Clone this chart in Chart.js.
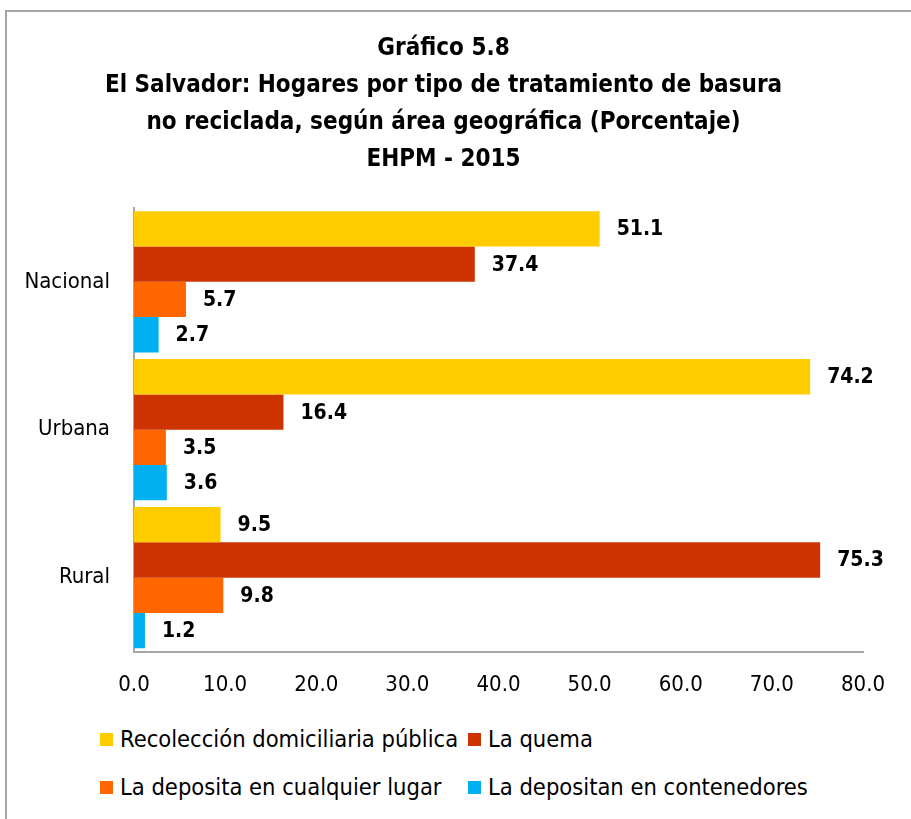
<!DOCTYPE html>
<html>
<head>
<meta charset="utf-8">
<script src="https://cdn.jsdelivr.net/npm/chart.js@4.4.1/dist/chart.umd.min.js"></script>
<style>
    body { margin: 0; background: #fff; width: 911px; height: 819px; overflow: hidden; position: relative; }
    .frame { position: absolute; left: 5px; top: 10px; width: 960px; height: 900px; border: 2px solid #a6a6a6; box-sizing: border-box; }
    .wrap { position: absolute; left: 24px; top: 12px; width: 887px; height: 712px; }
    .legend { position: absolute; left: 100px; font-family: "Liberation Sans Narrow", "DejaVu Sans Condensed", sans-serif; font-size: 23.5px; color: #000; white-space: nowrap; }
    .legend .item { position: absolute; top: 0; display: flex; align-items: center; }
    .legend .sw { width: 13px; height: 13px; margin-right: 7px; }
</style>
</head>
<body>
<div class="frame"></div>
<div class="wrap"><canvas id="chart"></canvas></div>
<div class="legend" id="legend1" style="top: 725px;"></div>
<div class="legend" id="legend2" style="top: 773px;"></div>
<script>
const FONT = '"Liberation Sans Narrow", "DejaVu Sans Condensed", sans-serif';

const areas = ['Nacional', 'Urbana', 'Rural'];
const seriesNames = [
    'Recolección domiciliaria pública',
    'La quema',
    'La deposita en cualquier lugar',
    'La depositan en contenedores'
];
const recoleccion = [51.1, 74.2, 9.5];
const quema = [37.4, 16.4, 75.3];
const cualquierLugar = [5.7, 3.5, 9.8];
const contenedores = [2.7, 3.6, 1.2];
const colors = ['#FFCC00', '#CC3300', '#FF6600', '#00B0F0'];
const xTicks = [0, 10, 20, 30, 40, 50, 60, 70, 80];

const seriesValues = [recoleccion, quema, cualquierLugar, contenedores];

// value labels to the right of each bar
const barValues = {
    id: 'barValues',
    afterDatasetsDraw(chart) {
        const ctx = chart.ctx;
        ctx.save();
        ctx.font = 'bold 21px ' + FONT;
        ctx.fillStyle = '#000';
        ctx.textAlign = 'left';
        ctx.textBaseline = 'middle';
        chart.data.datasets.forEach((ds, i) => {
            chart.getDatasetMeta(i).data.forEach((bar, j) => {
                ctx.fillText(ds.data[j].toFixed(1), bar.x + 17, bar.y + 1);
            });
        });
        ctx.restore();
    }
};

const ctx = document.getElementById('chart').getContext('2d');
new Chart(ctx, {
    type: 'bar',
    data: {
        labels: areas,
        datasets: seriesNames.map((name, i) => ({
            label: name,
            data: seriesValues[i],
            backgroundColor: colors[i],
            categoryPercentage: 0.955,
            barPercentage: 1.0
        }))
    },
    options: {
        indexAxis: 'y',
        responsive: true,
        maintainAspectRatio: false,
        animation: false,
        layout: {
            padding: { left: 0, right: 48, top: 0, bottom: 6 }
        },
        plugins: {
            legend: { display: false },
            tooltip: { enabled: false },
            title: {
                display: true,
                text: [
                    'Gráfico 5.8',
                    'El Salvador: Hogares por tipo de tratamiento de basura',
                    'no reciclada, según área geográfica (Porcentaje)',
                    'EHPM - 2015'
                ],
                color: '#000',
                font: { family: FONT, size: 24, weight: 'bold', lineHeight: 1.54 },
                padding: { top: 18, bottom: 30 }
            }
        },
        scales: {
            x: {
                min: 0,
                max: 80,
                afterBuildTicks: scale => { scale.ticks = xTicks.map(v => ({ value: v })); },
                grid: { display: false, drawTicks: false },
                border: { display: true, color: '#a6a6a6', width: 2 },
                ticks: {
                    padding: 20,
                    color: '#000',
                    font: { family: FONT, size: 22 },
                    callback: v => Number(v).toFixed(1)
                }
            },
            y: {
                grid: { display: false, drawTicks: false },
                border: { display: true, color: '#a6a6a6', width: 2 },
                afterFit: scale => { scale.width = 110; },
                ticks: {
                    padding: 24,
                    color: '#000',
                    font: { family: FONT, size: 22 }
                }
            }
        }
    },
    plugins: [barValues]
});

// legend rows, second column aligned
const legendLayout = [
    { row: 'legend1', left: 0 },
    { row: 'legend1', left: 368 },
    { row: 'legend2', left: 0 },
    { row: 'legend2', left: 368 }
];
seriesNames.forEach((name, i) => {
    const item = document.createElement('div');
    item.className = 'item';
    item.style.left = legendLayout[i].left + 'px';
    item.innerHTML = '<span class="sw" style="background:' + colors[i] + '"></span><span>' + name + '</span>';
    document.getElementById(legendLayout[i].row).appendChild(item);
});
</script>
</body>
</html>
